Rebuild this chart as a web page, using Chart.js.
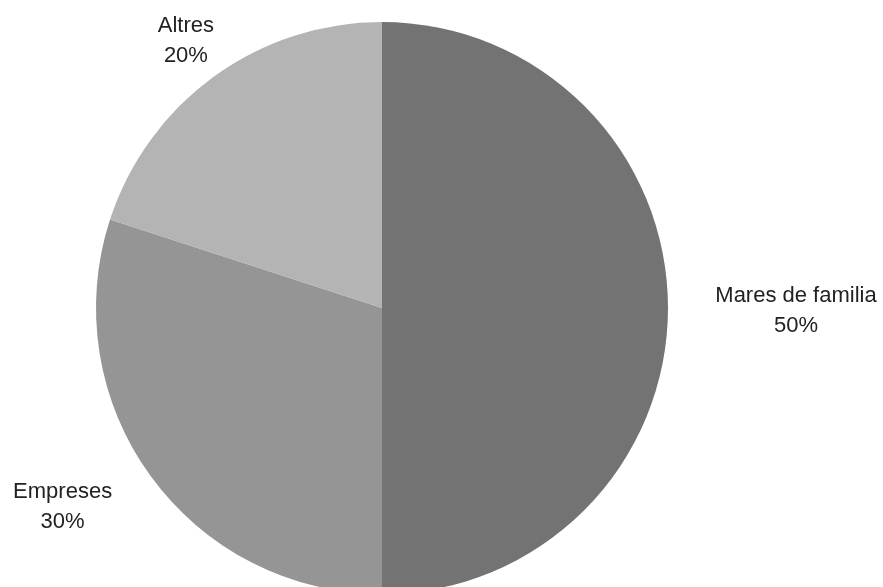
<!DOCTYPE html>
<html>
<head>
<meta charset="utf-8">
<script src="https://cdn.jsdelivr.net/npm/chart.js@4"></script>
<style>
  html, body { margin: 0; padding: 0; background: #fff; overflow: hidden; }
  #wrap { position: relative; width: 883px; height: 616px; }
</style>
</head>
<body>
<div id="wrap"><canvas id="pieChart" width="883" height="616"></canvas></div>
<script>
// Dades del gràfic
const categories = ['Mares de familia', 'Empreses', 'Altres'];
const values = [50, 30, 20];
const sliceColors = ['#737373', '#959595', '#b4b4b4'];

// desplaçament de cada etiqueta respecte a la vora de la porció
const labelOffsets = [[128, 3], [-88, 31], [-28, -36]];

const outsideLabels = {
    id: 'outsideLabels',
    afterDraw(chart) {
        const ctx = chart.ctx;
        const meta = chart.getDatasetMeta(0);
        const total = values.reduce((a, b) => a + b, 0);
        ctx.save();
        ctx.font = '22px "Liberation Sans", Arial, sans-serif';
        ctx.fillStyle = '#222222';
        ctx.textAlign = 'center';
        ctx.textBaseline = 'middle';
        meta.data.forEach((arc, i) => {
            const p = arc.getProps(['x', 'y', 'startAngle', 'endAngle', 'outerRadius'], true);
            const mid = (p.startAngle + p.endAngle) / 2;
            const ex = p.x + Math.cos(mid) * p.outerRadius;
            const ey = p.y + Math.sin(mid) * p.outerRadius;
            const lx = ex + labelOffsets[i][0];
            const ly = ey + labelOffsets[i][1];
            const pct = Math.round(values[i] / total * 100) + '%';
            ctx.fillText(categories[i], lx, ly - 15);
            ctx.fillText(pct, lx, ly + 15);
        });
        ctx.restore();
    }
};

const ctx = document.getElementById('pieChart').getContext('2d');
new Chart(ctx, {
    type: 'pie',
    data: {
        labels: categories,
        datasets: [{
            data: values,
            backgroundColor: sliceColors,
            borderWidth: 0
        }]
    },
    options: {
        responsive: false,
        animation: false,
        layout: {
            padding: { left: 96, right: 215, top: 22, bottom: 22 }
        },
        plugins: {
            legend: { display: false },
            tooltip: { enabled: false }
        }
    },
    plugins: [outsideLabels]
});
</script>
</body>
</html>
